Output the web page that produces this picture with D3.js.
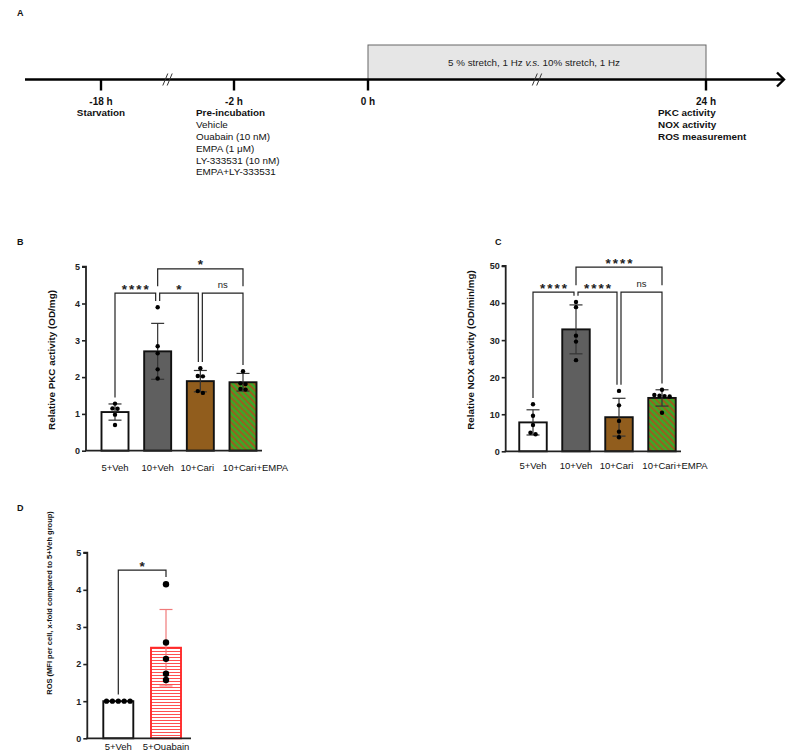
<!DOCTYPE html>
<html><head><meta charset="utf-8">
<script src="https://cdn.jsdelivr.net/npm/d3@7"></script>
<style>body{margin:0;background:#fff} svg{display:block;font-family:"Liberation Sans",Arial,Helvetica,sans-serif}</style>
</head><body><svg id="c" width="790" height="753"></svg>
<script>
// ---------- DATA ----------
// Panel A (timeline)
const timePoints = [-18, -2, 0, 24];
const timeLabels = ["-18 h", "-2 h", "0 h", "24 h"];
const timeNotes = [
  ["Starvation"],
  ["Pre-incubation", "Vehicle", "Ouabain (10 nM)", "EMPA (1 μM)", "LY-333531 (10 nM)", "EMPA+LY-333531"],
  [],
  ["PKC activity", "NOX activity", "ROS measurement"]
];
const timeNotesBold = [[true], [true, false, false, false, false, false], [], [true, true, true]];
const timeBreaks = [-10, 12];
const stretchWindow = [0, 24];
const stretchText = ["5 % stretch, 1 Hz ", "v.s.", " 10% stretch, 1 Hz"];

// Panel B (PKC)
const pkcCategories = ["5+Veh", "10+Veh", "10+Cari", "10+Cari+EMPA"];
const pkcMeans = [1.05, 2.70, 1.89, 1.86];
const pkcSD = [0.22, 0.76, 0.29, 0.24];
const pkcPoints = [
  [1.28, 1.15, 1.14, 0.98, 0.70],
  [3.90, 2.84, 2.65, 2.21, 1.96],
  [2.24, 2.03, 2.02, 1.62, 1.57],
  [2.16, 1.83, 1.81, 1.68, 1.66]
];
const pkcTicks = [0, 1, 2, 3, 4, 5];
const pkcComparisons = [[0, 1, "****", 0], [1, 2, "*", 0], [2, 3, "ns", 0], [1, 3, "*", 1]];

// Panel C (NOX)
const noxCategories = ["5+Veh", "10+Veh", "10+Cari", "10+Cari+EMPA"];
const noxMeans = [7.8, 32.9, 9.2, 14.4];
const noxSD = [3.4, 6.6, 5.1, 2.2];
const noxPoints = [
  [12.7, 9.6, 7.1, 5.0, 4.6],
  [40.3, 38.9, 31.2, 29.6, 24.6],
  [16.3, 12.4, 8.2, 5.3, 3.8],
  [16.6, 15.2, 15.0, 14.9, 14.8, 10.4]
];
const noxTicks = [0, 10, 20, 30, 40, 50];
const noxComparisons = [[0, 1, "****", 0], [1, 2, "****", 0], [2, 3, "ns", 0], [1, 3, "****", 1]];

// Panel D (ROS)
const rosCategories = ["5+Veh", "5+Ouabain"];
const rosMeans = [1.0, 2.44];
const rosSD = [0, 1.03];
const rosPoints = [
  [1.0, 1.0, 1.0, 1.0, 1.0],
  [4.15, 2.58, 2.14, 1.74, 1.57]
];
const rosTicks = [0, 1, 2, 3, 4, 5];
const rosComparisons = [[0, 1, "*", 0]];

// ---------- DRAW ----------
const svg = d3.select("#c");
const defs = svg.append("defs");

const pg = defs.append("pattern").attr("id", "greenBrown").attr("patternUnits", "userSpaceOnUse")
  .attr("width", 4.4).attr("height", 4.4).attr("patternTransform", "rotate(-45)");
pg.append("rect").attr("width", 4.4).attr("height", 4.4).attr("fill", "#3aa82a");
pg.append("rect").attr("x", 0).attr("width", 2).attr("height", 4.4).attr("fill", "#9a5e1e");

const pr = defs.append("pattern").attr("id", "redLines").attr("patternUnits", "userSpaceOnUse")
  .attr("width", 6).attr("height", 3);
pr.append("rect").attr("width", 6).attr("height", 3).attr("fill", "#fff");
pr.append("rect").attr("y", 0).attr("width", 6).attr("height", 1).attr("fill", "#ff5050");

const letters = [["A", 17, 16], ["B", 17, 245], ["C", 495, 245], ["D", 17, 511]];
svg.selectAll("text.letter").data(letters).join("text").attr("class", "letter")
  .attr("x", d => d[1]).attr("y", d => d[2]).text(d => d[0])
  .attr("font-size", 9).attr("font-weight", "bold").attr("fill", "#111");

// ---- Panel A ----
(function () {
  const tx = d3.scaleLinear().domain(timePoints).range([101, 234, 368, 706]);
  const lineY = 79.5;
  const g = svg.append("g");
  g.append("rect").attr("x", tx(stretchWindow[0])).attr("y", 45)
    .attr("width", tx(stretchWindow[1]) - tx(stretchWindow[0])).attr("height", lineY - 45)
    .attr("fill", "#e6e6e6").attr("stroke", "#666").attr("stroke-width", 1);
  const st = g.append("text").attr("x", (tx(stretchWindow[0]) + tx(stretchWindow[1])) / 2 - 3).attr("y", 65.5)
    .attr("text-anchor", "middle").attr("font-size", 9.8).attr("fill", "#222");
  st.selectAll("tspan").data(stretchText).join("tspan").text(d => d)
    .attr("font-style", (d, i) => i === 1 ? "italic" : "normal");
  g.append("line").attr("x1", 25).attr("x2", 783).attr("y1", lineY).attr("y2", lineY)
    .attr("stroke", "#000").attr("stroke-width", 2.6);
  g.append("path").attr("d", `M777,72.5 L784,${lineY} L777,86.5`).attr("fill", "none")
    .attr("stroke", "#000").attr("stroke-width", 2.4);
  g.selectAll("line.tk").data(timePoints).join("line").attr("class", "tk")
    .attr("x1", d => tx(d)).attr("x2", d => tx(d)).attr("y1", lineY).attr("y2", lineY + 11)
    .attr("stroke", "#000").attr("stroke-width", 2.4);
  timeBreaks.forEach(b => {
    [-2.2, 2.2].forEach(dx => {
      g.append("line").attr("x1", tx(b) + dx - 2.5).attr("y1", lineY + 6)
        .attr("x2", tx(b) + dx + 2.5).attr("y2", lineY - 6)
        .attr("stroke", "#333").attr("stroke-width", 1);
    });
  });
  g.selectAll("text.tl").data(timeLabels).join("text").attr("class", "tl")
    .attr("x", (d, i) => tx(timePoints[i])).attr("y", 104.5).attr("text-anchor", "middle")
    .attr("font-size", 10).attr("font-weight", "bold").attr("fill", "#111").text(d => d);
  const noteLayout = [{ a: "middle", dx: 0 }, { a: "start", dx: -38 }, { a: "middle", dx: 0 }, { a: "start", dx: -48 }];
  timeNotes.forEach((notes, i) => {
    g.selectAll(null).data(notes).join("text")
      .attr("x", tx(timePoints[i]) + noteLayout[i].dx).attr("y", (d, j) => 116.3 + j * 11.8)
      .attr("text-anchor", noteLayout[i].a).attr("font-size", 9.9)
      .attr("font-weight", (d, j) => timeNotesBold[i][j] ? "bold" : "normal")
      .attr("fill", "#111").text(d => d);
  });
})();

// ---- Bar panels ----
function swarm(vals, y, r) {
  const idx = vals.map((v, i) => i).sort((a, b) => vals[b] - vals[a]);
  const rows = [];
  idx.forEach(i => {
    const py = y(vals[i]);
    const last = rows[rows.length - 1];
    if (last && Math.abs(py - y(vals[last[0]])) < 2 * r - 0.5) last.push(i);
    else rows.push([i]);
  });
  const off = new Array(vals.length).fill(0);
  rows.forEach(row => row.forEach((i, k) => { off[i] = (k - (row.length - 1) / 2) * (2 * r + 0.7); }));
  return off;
}

function barPanel(c) {
  const g = svg.append("g");
  const y = d3.scaleLinear().domain(c.yDomain).range(c.yRange);
  const x = d3.scalePoint().domain(c.cats).range(c.xRange);
  g.selectAll("rect.bar").data(c.cats).join("rect").attr("class", "bar")
    .attr("x", d => x(d) - c.bw / 2).attr("width", c.bw)
    .attr("y", (d, i) => y(c.means[i])).attr("height", (d, i) => y(0) - y(c.means[i]))
    .attr("fill", (d, i) => c.fills[i]).attr("stroke", (d, i) => c.strokes[i]).attr("stroke-width", 1.9);
  c.cats.forEach((cat, i) => {
    if (!c.sd[i]) return;
    const cx = x(cat), t = y(c.means[i] + c.sd[i]), b = y(c.means[i] - c.sd[i]);
    const col = c.errColors[i];
    g.append("line").attr("x1", cx).attr("x2", cx).attr("y1", t).attr("y2", b).attr("stroke", col).attr("stroke-width", 1.2);
    [t, b].forEach(yy => g.append("line").attr("x1", cx - c.cap).attr("x2", cx + c.cap).attr("y1", yy).attr("y2", yy)
      .attr("stroke", col).attr("stroke-width", 1.2));
  });
  c.cats.forEach((cat, i) => {
    const off = swarm(c.points[i], y, c.r[i]);
    g.selectAll(null).data(c.points[i]).join("circle")
      .attr("cx", (d, k) => x(cat) + off[k]).attr("cy", d => y(d)).attr("r", c.r[i]).attr("fill", "#000");
  });
  const ya = d3.axisLeft(y).tickValues(c.ticks).tickSize(4).tickPadding(2).tickFormat(d3.format("d"));
  const yg = g.append("g").attr("transform", `translate(${c.axisX},0)`).call(ya);
  yg.select(".domain").attr("stroke", "#222").attr("stroke-width", 1.8).attr("d", `M-4,${y(c.yDomain[1])}H0V${y(0)}`);
  yg.selectAll(".tick line").attr("stroke", "#222").attr("stroke-width", 1.6);
  yg.selectAll(".tick text").attr("font-size", 9).attr("font-weight", "bold").attr("fill", "#222")
    .attr("font-family", "Liberation Sans, Arial, sans-serif");
  g.append("line").attr("x1", c.axisX - 1).attr("x2", c.axisEnd).attr("y1", y(0)).attr("y2", y(0))
    .attr("stroke", "#222").attr("stroke-width", 1.8);
  g.selectAll("text.xl").data(c.cats).join("text").attr("class", "xl")
    .attr("x", (d, i) => x(d) + c.labelShift[i]).attr("y", c.xLabelY).attr("text-anchor", "middle")
    .attr("font-size", 9.5).attr("fill", "#111").text(d => d);
  g.append("text").attr("transform", `translate(${c.titleX},${c.titleY}) rotate(-90)`)
    .attr("text-anchor", "middle").attr("font-size", c.titleSize).attr("font-weight", "bold").attr("fill", "#111")
    .text(c.title);
  const top = i => {
    const m = Math.max(...c.points[i]);
    return Math.min(y(m) - c.r[i], y(c.means[i] + c.sd[i])) - 4;
  };
  c.comps.forEach(([a, b, lab, row]) => {
    const ly = y(c.rowLevels[row]);
    const shareA = c.comps.some(o => o[3] === row && o[1] === a);
    const shareB = c.comps.some(o => o[3] === row && o[0] === b);
    const xa = x(c.cats[a]) + (shareA ? 2 : 0), xb = x(c.cats[b]) - (shareB ? 2 : 0);
    const ea = row > 0 ? y(c.rowLevels[0]) - 7 : top(a);
    const eb = row > 0 ? y(c.rowLevels[0]) - 7 : top(b);
    g.append("path").attr("d", `M${xa},${ea}V${ly}H${xb}V${eb}`).attr("fill", "none")
      .attr("stroke", "#222").attr("stroke-width", 1.2);
    const mx = (xa + xb) / 2;
    if (lab === "ns") {
      g.append("text").attr("x", mx).attr("y", ly - 5).attr("text-anchor", "middle").attr("font-size", 9.5).attr("fill", "#222").text(lab);
    } else {
      g.append("text").attr("x", mx + 1).attr("y", ly + 0.5).attr("text-anchor", "middle").attr("font-size", 13.5)
        .attr("font-weight", "bold").attr("letter-spacing", 2).attr("fill", "#222").text(lab);
    }
  });
}

barPanel({
  cats: pkcCategories, means: pkcMeans, sd: pkcSD, points: pkcPoints, ticks: pkcTicks, comps: pkcComparisons,
  yDomain: [0, 5], yRange: [450.7, 266.7], xRange: [115, 243], bw: 27, axisX: 86, axisEnd: 262,
  fills: ["#fff", "#5f5f5f", "#915d1d", "url(#greenBrown)"], strokes: ["#111", "#111", "#111", "#111"],
  errColors: ["#333", "#333", "#333", "#333"], r: [2.2, 2.2, 2.2, 2.2], cap: 6.5, labelShift: [0, 0, -3, 12.5],
  xLabelY: 470.5, title: "Relative PKC activity (OD/mg)", titleX: 55, titleY: 360, titleSize: 9.9,
  rowLevels: [4.28, 4.94]
});

barPanel({
  cats: noxCategories, means: noxMeans, sd: noxSD, points: noxPoints, ticks: noxTicks, comps: noxComparisons,
  yDomain: [0, 50], yRange: [451.3, 266], xRange: [533, 662], bw: 27.5, axisX: 505.7, axisEnd: 681,
  fills: ["#fff", "#5f5f5f", "#915d1d", "url(#greenBrown)"], strokes: ["#111", "#111", "#111", "#111"],
  errColors: ["#333", "#333", "#333", "#333"], r: [2.2, 2.2, 2.2, 2.2], cap: 6.5, labelShift: [0, 0, -2.5, 13],
  xLabelY: 468.5, title: "Relative NOX activity (OD/min/mg)", titleX: 474, titleY: 350, titleSize: 9.8,
  rowLevels: [42.95, 49.7]
});

barPanel({
  cats: rosCategories, means: rosMeans, sd: rosSD, points: rosPoints, ticks: rosTicks, comps: rosComparisons,
  yDomain: [0, 5], yRange: [738.3, 552.7], xRange: [118.3, 166], bw: 30, axisX: 87.3, axisEnd: 191,
  fills: ["#fff", "url(#redLines)"], strokes: ["#111", "#ff2a2a"],
  errColors: ["#333", "#f07a7a"], r: [2.6, 3.2], cap: 6.5, labelShift: [0, 0],
  xLabelY: 750, title: "ROS (MFI per cell, x-fold compared to 5+Veh group)", titleX: 52, titleY: 603, titleSize: 7.5,
  rowLevels: [4.53]
});
</script></body></html>
